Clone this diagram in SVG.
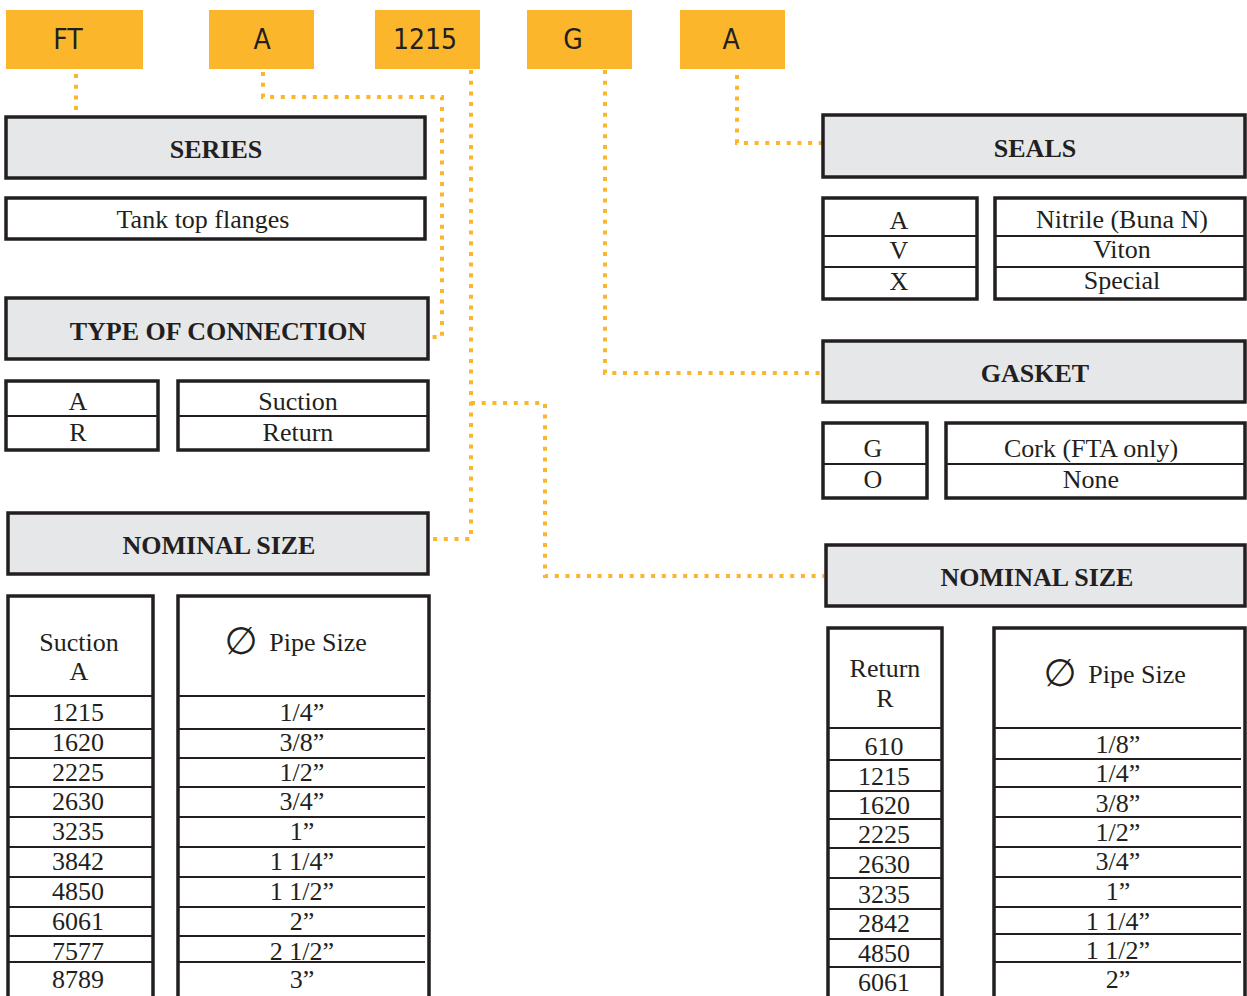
<svg xmlns="http://www.w3.org/2000/svg" width="1247" height="996" viewBox="0 0 1247 996">
<style>
.code{fill:#FBB62B}
.codet{font-family:"Liberation Sans Narrow","DejaVu Sans Condensed",sans-serif;font-size:28px;fill:#231F20;text-anchor:middle}
.hdr{fill:#E6E7E8;stroke:#231F20;stroke-width:3.5}
.box{fill:#FFFFFF;stroke:#231F20;stroke-width:3.5}
.div{stroke:#231F20;stroke-width:2;fill:none}
.ht{font-family:"Liberation Serif","Times New Roman","DejaVu Serif",serif;font-size:26px;font-weight:bold;fill:#231F20;text-anchor:middle}
.t{font-family:"Liberation Serif","Times New Roman","DejaVu Serif",serif;font-size:26px;font-weight:normal;font-style:normal;fill:#231F20;text-anchor:middle}
.dia{font-family:"DejaVu Sans",sans-serif;font-size:38px;fill:#231F20;text-anchor:middle}
.con{fill:none;stroke:#FBB62B;stroke-width:4;stroke-dasharray:4 6.7}
</style>
<g id="connectors">
<path class="con" d="M76,74 V115"/>
<path class="con" d="M263,72 V97 H442 V337 H430"/>
<path class="con" d="M471,70 V539 H432"/>
<path class="con" d="M471,403 H545 V576 H824"/>
<path class="con" d="M605,70 V373 H821"/>
<path class="con" d="M737,75 V143 H822"/>
</g>
<g id="code-ft"><rect class="code" x="6" y="10" width="137" height="59"/><text class="codet" x="68" y="49">FT</text></g>
<g id="code-a1"><rect class="code" x="209" y="10" width="105" height="59"/><text class="codet" x="262" y="49">A</text></g>
<g id="code-1215"><rect class="code" x="375" y="10" width="105" height="59"/><text class="codet" x="425" y="49">1215</text></g>
<g id="code-g"><rect class="code" x="527" y="10" width="105" height="59"/><text class="codet" x="573" y="49">G</text></g>
<g id="code-a2"><rect class="code" x="680" y="10" width="105" height="59"/><text class="codet" x="731" y="49">A</text></g>

<g id="series"><rect class="hdr" x="6" y="117" width="419" height="61"/><text class="ht" x="216" y="158">SERIES</text></g>
<g id="series-values"><rect class="box" x="6" y="198" width="419" height="41"/><text class="t" x="203" y="228">Tank top flanges</text></g>

<g id="type-connection"><rect class="hdr" x="6" y="298" width="422" height="61"/><text class="ht" x="218" y="340">TYPE OF CONNECTION</text></g>
<g id="type-codes"><rect class="box" x="6" y="381" width="152" height="69"/><line class="div" x1="6" y1="416" x2="158" y2="416"/><text class="t" x="78" y="410">A</text><text class="t" x="78" y="441">R</text></g>
<g id="type-values"><rect class="box" x="178" y="381" width="250" height="69"/><line class="div" x1="178" y1="416" x2="428" y2="416"/><text class="t" x="298" y="410">Suction</text><text class="t" x="298" y="441">Return</text></g>

<g id="nominal-left"><rect class="hdr" x="8" y="513" width="420" height="61"/><text class="ht" x="219" y="554">NOMINAL SIZE</text></g>
<g id="suction-codes">
<rect class="box" x="8" y="596" width="145" height="420"/>
<path class="div" d="M9,696 H152 M9,729 H152 M9,758 H152 M9,787 H152 M9,817 H152 M9,847 H152 M9,877 H152 M9,907 H152 M9,936 H152 M9,962 H152"/>
<text class="t" x="79" y="651">Suction</text><text class="t" x="79" y="680">A</text>
<text class="t" x="78" y="721">1215</text><text class="t" x="78" y="751">1620</text><text class="t" x="78" y="781">2225</text><text class="t" x="78" y="810">2630</text><text class="t" x="78" y="840">3235</text><text class="t" x="78" y="870">3842</text><text class="t" x="78" y="900">4850</text><text class="t" x="78" y="930">6061</text><text class="t" x="78" y="960">7577</text><text class="t" x="78" y="988">8789</text>
</g>
<g id="suction-sizes">
<rect class="box" x="178" y="596" width="251" height="420"/>
<path class="div" d="M179,696 H425 M179,729 H425 M179,758 H425 M179,787 H425 M179,817 H425 M179,847 H425 M179,877 H425 M179,907 H425 M179,936 H425 M179,962 H425"/>
<text class="dia" x="241" y="654">∅</text><text class="t" x="318" y="651">Pipe Size</text>
<text class="t" x="302" y="721">1/4”</text><text class="t" x="302" y="751">3/8”</text><text class="t" x="302" y="781">1/2”</text><text class="t" x="302" y="810">3/4”</text><text class="t" x="302" y="840">1”</text><text class="t" x="302" y="870">1 1/4”</text><text class="t" x="302" y="900">1 1/2”</text><text class="t" x="302" y="930">2”</text><text class="t" x="302" y="960">2 1/2”</text><text class="t" x="302" y="988">3”</text>
</g>

<g id="seals"><rect class="hdr" x="823" y="115" width="422" height="62"/><text class="ht" x="1035" y="157">SEALS</text></g>
<g id="seals-codes"><rect class="box" x="823" y="198" width="154" height="101"/><path class="div" d="M823,236 H977 M823,267 H977"/><text class="t" x="899" y="229">A</text><text class="t" x="899" y="259">V</text><text class="t" x="899" y="290">X</text></g>
<g id="seals-values"><rect class="box" x="995" y="198" width="250" height="101"/><path class="div" d="M995,236 H1245 M995,267 H1245"/><text class="t" x="1122" y="228">Nitrile (Buna N)</text><text class="t" x="1122" y="258">Viton</text><text class="t" x="1122" y="289">Special</text></g>

<g id="gasket"><rect class="hdr" x="823" y="341" width="422" height="61"/><text class="ht" x="1035" y="382">GASKET</text></g>
<g id="gasket-codes"><rect class="box" x="823" y="423" width="104" height="75"/><line class="div" x1="823" y1="464" x2="927" y2="464"/><text class="t" x="873" y="457">G</text><text class="t" x="873" y="488">O</text></g>
<g id="gasket-values"><rect class="box" x="946" y="423" width="299" height="75"/><line class="div" x1="946" y1="464" x2="1245" y2="464"/><text class="t" x="1091" y="457">Cork (FTA only)</text><text class="t" x="1091" y="488">None</text></g>

<g id="nominal-right"><rect class="hdr" x="826" y="545" width="419" height="61"/><text class="ht" x="1037" y="586">NOMINAL SIZE</text></g>
<g id="return-codes">
<rect class="box" x="828" y="628" width="114" height="400"/>
<path class="div" d="M829,728 H941 M829,760 H941 M829,791 H941 M829,819 H941 M829,848 H941 M829,878 H941 M829,909 H941 M829,939 H941 M829,967 H941"/>
<text class="t" x="885" y="677">Return</text><text class="t" x="885" y="707">R</text>
<text class="t" x="884" y="755">610</text><text class="t" x="884" y="785">1215</text><text class="t" x="884" y="814">1620</text><text class="t" x="884" y="843">2225</text><text class="t" x="884" y="873">2630</text><text class="t" x="884" y="903">3235</text><text class="t" x="884" y="932">2842</text><text class="t" x="884" y="962">4850</text><text class="t" x="884" y="991">6061</text>
</g>
<g id="return-sizes">
<rect class="box" x="994" y="628" width="251" height="400"/>
<path class="div" d="M995,728 H1241 M995,759 H1241 M995,787 H1241 M995,817 H1241 M995,847 H1241 M995,877 H1241 M995,907 H1241 M995,934 H1241 M995,962 H1241"/>
<text class="dia" x="1060" y="686">∅</text><text class="t" x="1137" y="683">Pipe Size</text>
<text class="t" x="1118" y="753">1/8”</text><text class="t" x="1118" y="782">1/4”</text><text class="t" x="1118" y="812">3/8”</text><text class="t" x="1118" y="841">1/2”</text><text class="t" x="1118" y="870">3/4”</text><text class="t" x="1118" y="900">1”</text><text class="t" x="1118" y="930">1 1/4”</text><text class="t" x="1118" y="959">1 1/2”</text><text class="t" x="1118" y="988">2”</text>
</g>
</svg>
